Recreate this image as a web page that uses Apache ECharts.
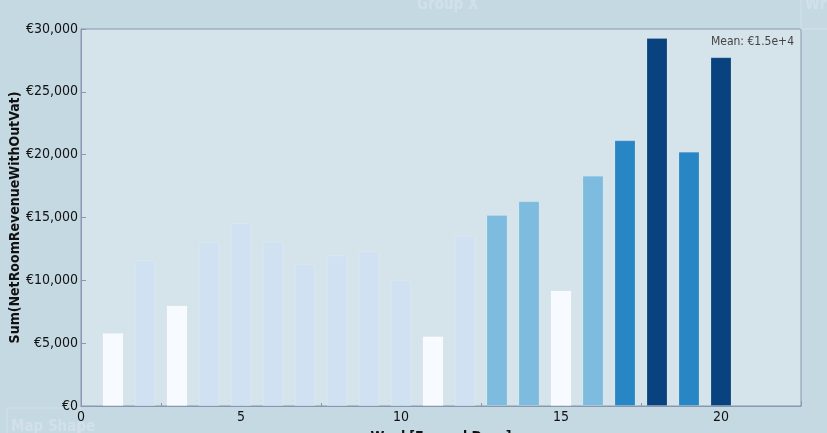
<!DOCTYPE html>
<html>
<head>
<meta charset="utf-8">
<script src="https://cdn.jsdelivr.net/npm/echarts@6/dist/echarts.min.js"></script>
<style>
  html, body { margin: 0; padding: 0; background: #c5d9e3; }
  #chart-wrap { width: 827px; height: 433px; }
</style>
</head>
<body>
<div id="chart-wrap"></div>
<script>
var weeks = [1, 2, 3, 4, 5, 6, 7, 8, 9, 10, 11, 12, 13, 14, 15, 16, 17, 18, 19, 20];
var revenue = [5800, 11600, 8000, 13050, 14550, 13080, 11300, 12000, 12300, 10030,
               5550, 13530, 15200, 16290, 9200, 18330, 21140, 29280, 20240, 27750];
var meanLabel = 'Mean: €1.5e+4';
var colorBins = [
  { lt: 10000, color: '#f7fbff' },
  { gte: 10000, lt: 15000, color: '#d0e2f2' },
  { gte: 15000, lt: 20000, color: '#7dbbdf' },
  { gte: 20000, lt: 25000, color: '#2986c4' },
  { gte: 25000, color: '#08437f' }
];

var font = '"DejaVu Sans Condensed", "Liberation Sans Narrow", sans-serif';
var ghost = '#d2e1e9';

var myChart = echarts.init(document.getElementById('chart-wrap'));
var option = {
  backgroundColor: '#c5d9e3',
  animation: false,
  grid: {
    left: 81, right: 26, top: 29, bottom: 27,
    outerBoundsMode: 'none',
    containLabel: false,
    show: true,
    backgroundColor: '#d5e3ea',
    borderColor: '#8c95b1',
    borderWidth: 1
  },
  visualMap: {
    show: false,
    type: 'piecewise',
    dimension: 1,
    seriesIndex: 0,
    pieces: colorBins
  },
  xAxis: {
    type: 'value',
    min: 0, max: 22.5, interval: 5,
    name: 'Week[Expand Days]',
    nameLocation: 'middle',
    nameGap: 24,
    nameMoveOverlap: false,
    nameTextStyle: { fontFamily: font, fontWeight: 'bold', fontSize: 14, color: '#111', verticalAlign: 'top' },
    axisLine: { show: true, lineStyle: { color: '#8c95b1' } },
    axisTick: { show: true, inside: true, length: 5, lineStyle: { color: '#8c95b1' } },
    minorTick: { show: true, splitNumber: 2, length: 3, lineStyle: { color: '#8c95b1' } },
    splitLine: { show: false },
    axisLabel: { fontFamily: font, fontSize: 14, color: '#111', margin: 4, showMaxLabel: false }
  },
  yAxis: {
    type: 'value',
    min: 0, max: 30000, interval: 5000,
    name: 'Sum(NetRoomRevenueWithOutVat)',
    nameLocation: 'middle',
    nameGap: 59,
    nameMoveOverlap: false,
    nameTextStyle: { fontFamily: font, fontWeight: 'bold', fontSize: 14, color: '#111' },
    axisLine: { show: true, lineStyle: { color: '#8c95b1' } },
    axisTick: { show: true, inside: true, length: 5, lineStyle: { color: '#8c95b1' } },
    splitLine: { show: false },
    axisLabel: {
      fontFamily: font, fontSize: 14, color: '#111', margin: 3,
      formatter: function (v) { return '€' + v.toLocaleString('en-US'); }
    }
  },
  graphic: [
    { type: 'text', right: 33, top: 36,
      style: { text: meanLabel, font: '12px ' + font, fill: '#444' } },
    { type: 'text', left: 417, top: -2,
      style: { text: 'Group X', font: 'bold 15px ' + font, fill: ghost } },
    { type: 'text', left: 805, top: -2,
      style: { text: 'Wr', font: 'bold 15px ' + font, fill: ghost } },
    { type: 'text', left: 830, top: 185, rotation: -Math.PI / 2,
      style: { text: 'Group Y', font: 'bold 15px ' + font, fill: ghost } },
    { type: 'rect', shape: { x: 7, y: 408, width: 73, height: 30 },
      style: { fill: 'none', stroke: ghost, lineWidth: 1 } },
    { type: 'text', left: 11, top: 420,
      style: { text: 'Map Shape', font: 'bold 15px ' + font, fill: ghost } },
    { type: 'line', shape: { x1: 801, y1: 0, x2: 801, y2: 29 },
      style: { stroke: ghost, lineWidth: 1 } },
    { type: 'line', shape: { x1: 801, y1: 29, x2: 827, y2: 29 },
      style: { stroke: ghost, lineWidth: 1 } }
  ],
  series: [{
    type: 'bar',
    barWidth: 21,
    data: weeks.map(function (w, i) { return [w, revenue[i]]; }),
    itemStyle: { borderColor: 'rgba(255,255,255,0.15)', borderWidth: 1 }
  }]
};
myChart.setOption(option);
</script>
</body>
</html>
